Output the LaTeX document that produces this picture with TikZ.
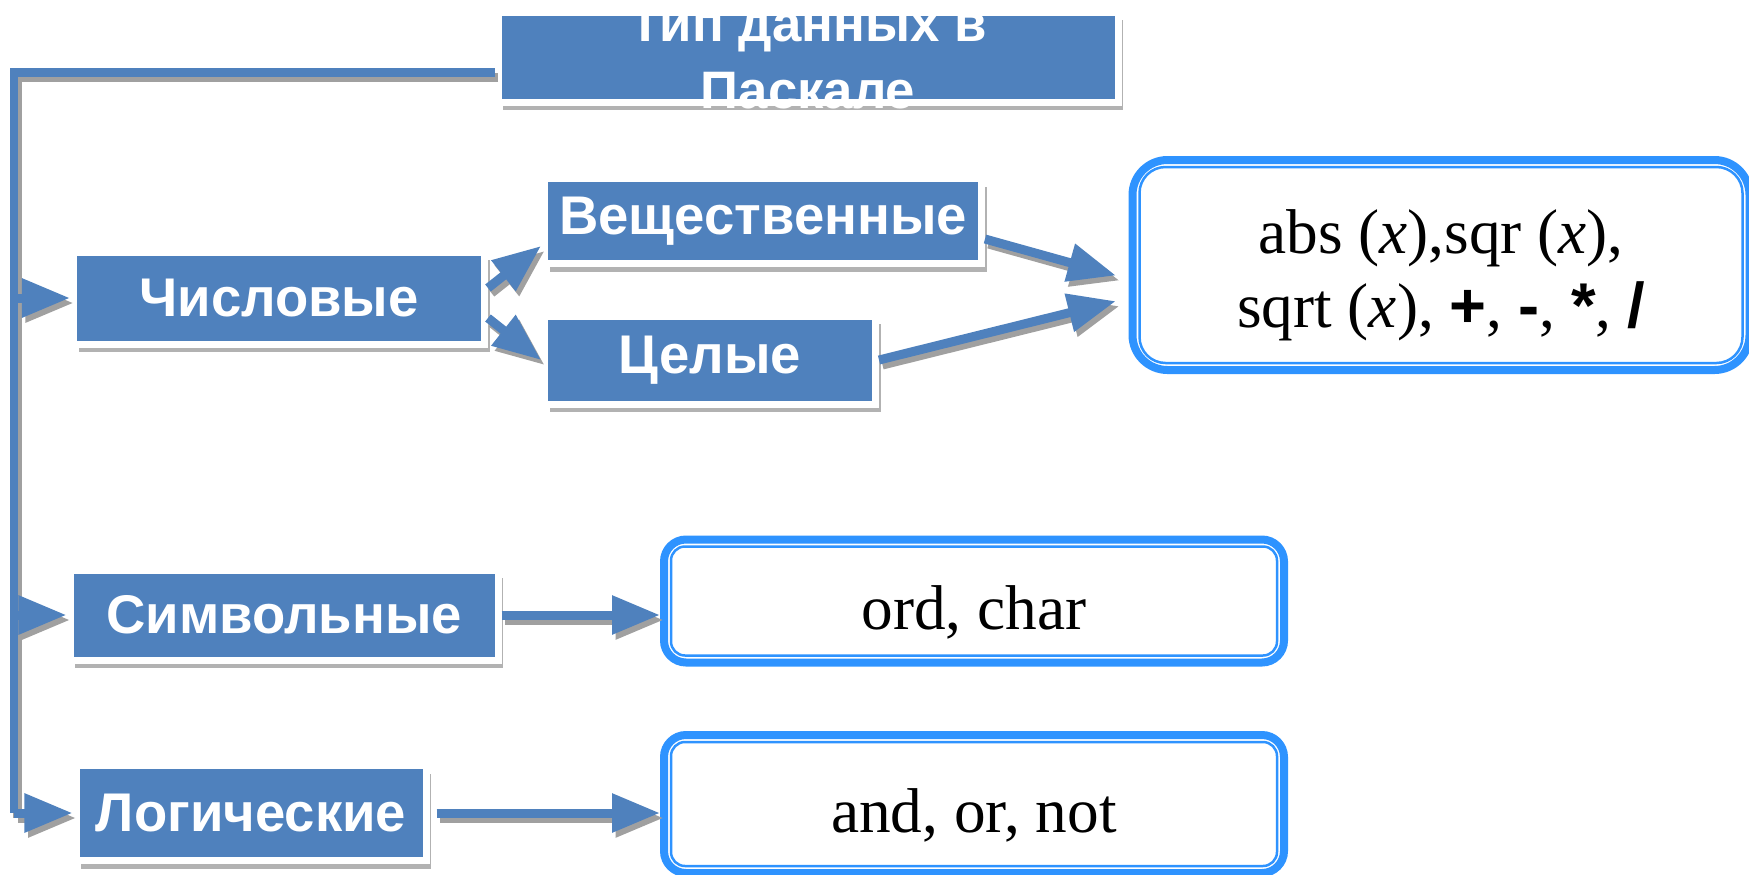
\documentclass[tikz,border=0pt]{standalone}
\usepackage{fontspec}
\setmainfont{Liberation Serif}
\setsansfont{Liberation Sans}
\usetikzlibrary{arrows.meta,shadows}
\definecolor{boxblue}{RGB}{79,129,189}
\definecolor{opblue}{RGB}{46,147,255}
\definecolor{shade}{RGB}{160,160,160}
\newcommand{\op}[1]{{\sffamily\bfseries #1}}
\newcommand{\sunk}[1]{\raisebox{-0.11cm}[\height][\depth]{#1}}

\begin{document}
\begin{tikzpicture}[
    typebox/.style={rectangle, draw=white, line width=0.07cm, fill=boxblue, inner sep=0pt, text=white, font=\sffamily\bfseries\fontsize{15.5}{18}\selectfont, drop shadow={shadow xshift=0.05cm, shadow yshift=-0.08cm, fill=black, opacity=0.3}},
    opbox/.style={rectangle, draw=opblue, line width=0.08cm, rounded corners=0.35cm, fill=white, inner sep=0pt, align=center, font=\fontsize{18}{21}\selectfont},
    innerline/.style={draw=opblue, line width=0.025cm},
    trunk/.style={line width=0.09cm},
    arrow/.style={trunk, -{Triangle[length=0.48cm, width=0.37cm]}}
]
\useasboundingbox (0,0) rectangle (17.49,-8.74);

% Title
\node[typebox, minimum width=6.2cm, minimum height=0.9cm,
  label={[text=white, align=center, font=\sffamily\bfseries\fontsize{15}{19}\selectfont]center:Тип данных в\\Паскале}] (title) at (8.08,-0.57) {};

% Types
\node[typebox, minimum width=4.11cm, minimum height=0.92cm] (num) at (2.79,-2.98) {Числовые};
\node[typebox, minimum width=4.37cm, minimum height=0.85cm] (real) at (7.63,-2.21) {Вещественные};
\node[typebox, minimum width=3.31cm, minimum height=0.88cm] (whole) at (7.10,-3.60) {Целые};
\node[typebox, minimum width=4.28cm, minimum height=0.90cm] (sym) at (2.84,-6.15) {Символьные};
\node[typebox, minimum width=3.50cm, minimum height=0.95cm] (log) at (2.51,-8.13) {Логические};

% Operations
\node[opbox, minimum width=6.17cm, minimum height=2.10cm] (fn) at (14.41,-2.65)
  {\sunk{\begin{tabular}{@{}c@{}}abs (\textit{x}),sqr (\textit{x}),\\sqrt (\textit{x}), \op{+}, \op{-}, \op{*}, \op{/}\end{tabular}}};
\node[opbox, rounded corners=0.22cm, minimum width=6.20cm, minimum height=1.23cm] (chr) at (9.74,-6.01) {\sunk{ord, char}};
\node[opbox, rounded corners=0.22cm, minimum width=6.20cm, minimum height=1.38cm] (logic) at (9.74,-8.04) {\sunk{and, or, not}};

\foreach \n/\r in {fn/0.26, chr/0.14, logic/0.14}
  \draw[innerline, rounded corners=\r cm] ([shift={(0.11,-0.11)}]\n.north west) rectangle ([shift={(-0.11,0.11)}]\n.south east);

% Connectors (gray shadow first, then blue)
\coordinate (spine) at (0.14,0);
\foreach \tint/\dx/\dy in {shade/0.035/-0.05, boxblue/0/0} {
  \begin{scope}[transform canvas={xshift=\dx cm, yshift=\dy cm}, draw=\tint, fill=\tint]
    \draw[trunk] ([yshift=-0.15cm]title.west) -| (spine |- log.west);
    \foreach \n in {num,sym,log}
      \draw[arrow] (spine |- \n.west) -- (\n.west);
    \draw[arrow] ([yshift=0.1cm]num.east) -- ([yshift=-0.25cm]real.west);
    \draw[arrow] ([yshift=-0.2cm]num.east) -- (whole.west);
    \draw[arrow, shorten >=0.13cm] ([yshift=-0.18cm]real.east) -- ([yshift=-0.14cm]fn.west);
    \draw[arrow, shorten >=0.13cm] (whole.east) -- ([yshift=-0.33cm]fn.west);
    \draw[arrow] (sym.east) -- (sym.east -| chr.west);
    \draw[arrow, shorten <=0.07cm] (log.east) -- (log.east -| logic.west);
  \end{scope}
}

\end{tikzpicture}
\end{document}
